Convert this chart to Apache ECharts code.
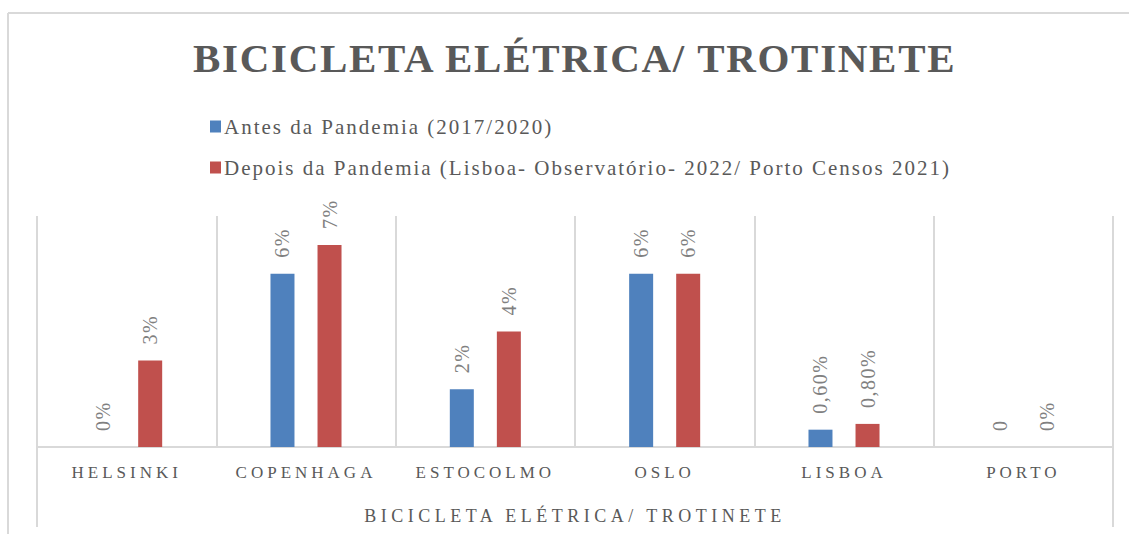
<!DOCTYPE html>
<html><head><meta charset="utf-8">
<script src="https://cdn.jsdelivr.net/npm/echarts@6/dist/echarts.min.js"></script>
<style>
html,body{margin:0;padding:0;background:#fff}
#c{width:1129px;height:534px}
#c text[style*="41px"]{letter-spacing:1.7px}
#c text[style*="21px"]{letter-spacing:2px}
#c text[style*="17px"]{letter-spacing:4px}
#c text[style*="18px"]{letter-spacing:4.5px}
#c text[style*="20px"]{letter-spacing:1.5px}
</style>
</head><body><div id="c"></div>
<script>
const titleText = 'BICICLETA ELÉTRICA/ TROTINETE';
const axisName = 'BICICLETA ELÉTRICA/ TROTINETE';
const categories = ['HELSINKI','COPENHAGA','ESTOCOLMO','OSLO','LISBOA','PORTO'];
const seriesNames = ['Antes da Pandemia (2017/2020)','Depois da Pandemia (Lisboa- Observatório- 2022/ Porto Censos 2021)'];
const antes = [0, 0.06, 0.02, 0.06, 0.006, 0];
const depois = [0.03, 0.07, 0.04, 0.06, 0.008, 0];
const antesLabels = ['0%','6%','2%','6%','0,60%','0'];
const depoisLabels = ['3%','7%','4%','6%','0,80%','0%'];

const FONT = "'Liberation Serif', serif";
const grid = {left:37, right:16, top:216, bottom:87};

function labelCfg(texts){
  return {show:true, position:'top', rotate:90, align:'left', verticalAlign:'middle', distance:16,
    color:'#808080', fontSize:20, fontFamily:FONT,
    formatter: p => texts[p.dataIndex]};
}
const chart = echarts.init(document.getElementById('c'), null, {renderer:'svg'});
chart.setOption({
  animation:false,
  backgroundColor:'#fff',
  title:{text:titleText, left:188, top:32, padding:5,
    textStyle:{fontFamily:FONT, fontWeight:'bold', fontSize:41, color:'#595959'}},
  legend:{orient:'vertical', left:205, top:111, itemWidth:11, itemHeight:12, itemGap:20,
    icon:'rect', textStyle:{fontFamily:FONT, fontSize:21, color:'#595959', padding:[0,0,0,-2]},
    data:seriesNames},
  grid:grid,
  xAxis:{type:'category', data:categories,
    name:axisName, nameLocation:'middle', nameGap:60,
    nameTextStyle:{fontFamily:FONT, fontSize:18, color:'#595959'},
    axisLine:{lineStyle:{color:'#d9d9d9', width:2}},
    axisTick:{show:false},
    axisLabel:{margin:17, fontFamily:FONT, fontSize:17, color:'#595959'},
    splitLine:{show:true, lineStyle:{color:'#d9d9d9', width:2}}},
  yAxis:{type:'value', min:0, max:0.08, show:false},
  series:[
    {name:seriesNames[0], type:'bar', data:antes, barWidth:24, barGap:'96%',
     itemStyle:{color:'#4f81bd'}, label:labelCfg(antesLabels)},
    {name:seriesNames[1], type:'bar', data:depois, barWidth:24, barGap:'96%',
     itemStyle:{color:'#c0504d'}, label:labelCfg(depoisLabels)}
  ],
  graphic:[
    {type:'line', shape:{x1:8, y1:13, x2:1129, y2:13}, style:{stroke:'#d9d9d9', lineWidth:2}},
    {type:'line', shape:{x1:8, y1:13, x2:8, y2:534}, style:{stroke:'#d9d9d9', lineWidth:2}},
    {type:'line', shape:{x1:37, y1:447, x2:37, y2:527}, style:{stroke:'#d9d9d9', lineWidth:2}},
    {type:'line', shape:{x1:1113, y1:447, x2:1113, y2:527}, style:{stroke:'#d9d9d9', lineWidth:2}}
  ]
});
</script>
</body></html>
